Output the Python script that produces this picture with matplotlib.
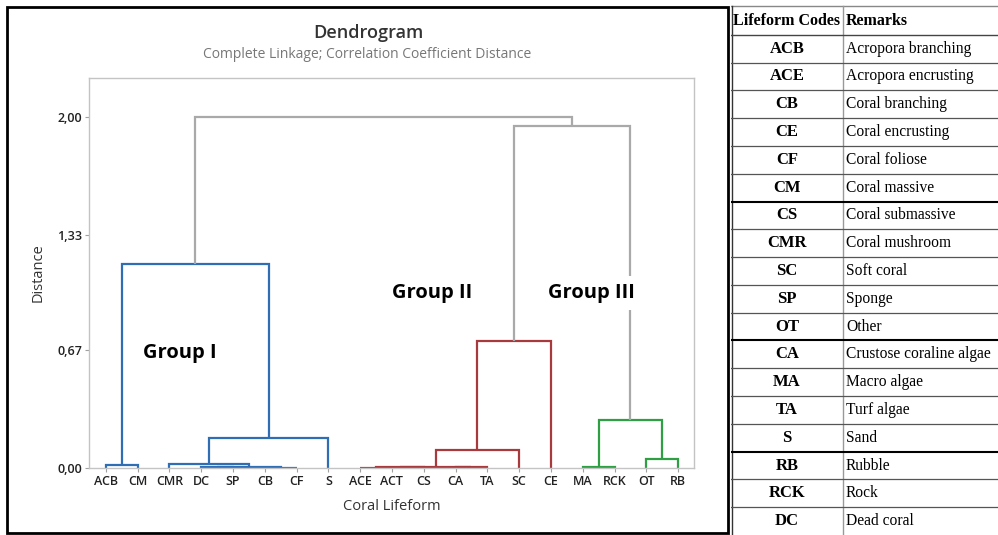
import matplotlib
matplotlib.use('Agg')
import matplotlib.pyplot as plt
from matplotlib.patches import Rectangle

# leaf order along the x axis
leaves = ['ACB', 'CM', 'CMR', 'DC', 'SP', 'CB', 'CF', 'S', 'ACE', 'ACT',
          'CS', 'CA', 'TA', 'SC', 'CE', 'MA', 'RCK', 'OT', 'RB']

# merges: (left node, right node, distance, colour key); new nodes get ids 19, 20, ...
merges = [
    (3, 4, 0.006, 'blue'),     # 19 DC+SP
    (5, 6, 0.002, 'blue'),     # 20 CB+CF
    (19, 20, 0.008, 'blue'),   # 21
    (2, 21, 0.025, 'blue'),    # 22 CMR+...
    (0, 1, 0.018, 'blue'),     # 23 ACB+CM
    (22, 7, 0.173, 'blue'),    # 24 ...+S
    (23, 24, 1.165, 'blue'),   # 25 group I
    (8, 9, 0.002, 'red'),      # 26 ACE+ACT
    (26, 10, 0.003, 'red'),    # 27 +CS
    (11, 12, 0.004, 'red'),    # 28 CA+TA
    (27, 28, 0.006, 'red'),    # 29
    (29, 13, 0.100, 'red'),    # 30 +SC
    (30, 14, 0.725, 'red'),    # 31 group II (+CE)
    (15, 16, 0.004, 'green'),  # 32 MA+RCK
    (17, 18, 0.053, 'green'),  # 33 OT+RB
    (32, 33, 0.274, 'green'),  # 34 group III
    (31, 34, 1.949, 'gray'),   # 35
    (25, 35, 2.002, 'gray'),   # 36
]

y_ticks = [0.0, 0.67, 1.33, 2.0]
y_tick_labels = ['0,00', '0,67', '1,33', '2,00']

group_names = ['Group I', 'Group II', 'Group III']
group_x = [3.34, 11.26, 16.28]
group_y = [0.655, 0.997, 0.997]

table_codes = ['ACB', 'ACE', 'CB', 'CE', 'CF', 'CM', 'CS', 'CMR', 'SC',
               'SP', 'OT', 'CA', 'MA', 'TA', 'S', 'RB', 'RCK', 'DC']
table_remarks = ['Acropora branching', 'Acropora encrusting', 'Coral branching',
                 'Coral encrusting', 'Coral foliose', 'Coral massive',
                 'Coral submassive', 'Coral mushroom', 'Soft coral', 'Sponge',
                 'Other', 'Crustose coraline algae', 'Macro algae', 'Turf algae',
                 'Sand', 'Rubble', 'Rock', 'Dead coral']
heavy_rules = ['CM', 'OT', 'S']

colours = {'blue': '#2f6db5', 'red': '#a8393d', 'green': '#2ea043',
           'gray': '#a9a9a9'}

W, H = 998, 535
fig = plt.figure(figsize=(W / 100, H / 100), dpi=100)
plt.rcParams['font.family'] = ['Open Sans', 'DejaVu Sans']

# frame round the chart panel
fig.patches.append(Rectangle((7 / W, 1 - 533 / H), (728 - 7) / W, (533 - 7) / H,
                             transform=fig.transFigure, fill=False,
                             edgecolor='black', linewidth=2))

ax = fig.add_axes([89 / W, 1 - 468 / H, (694 - 89) / W, (468 - 78) / H])

pos = {i: i + 1 for i in range(len(leaves))}
hgt = {i: 0.0 for i in range(len(leaves))}
for k, (a, b, h, c) in enumerate(merges):
    n = len(leaves) + k
    xa, xb = pos[a], pos[b]
    ax.plot([xa, xa, xb, xb], [hgt[a], h, h, hgt[b]], color=colours[c],
            lw=1.6, solid_joinstyle='miter', solid_capstyle='butt', zorder=2)
    pos[n] = (xa + xb) / 2
    hgt[n] = h

ax.set_xlim(0.47, 19.5)
ax.set_ylim(0, 2.222)
ax.set_xticks(range(1, len(leaves) + 1))
ax.set_xticklabels(leaves)
ax.set_yticks(y_ticks)
ax.set_yticklabels(y_tick_labels)
ax.tick_params(axis='both', length=3, width=0.8, color='#a0a0a0',
               labelsize=9, labelcolor='#222222', pad=2)
for lab in ax.get_xticklabels() + ax.get_yticklabels():
    lab.set_fontweight('semibold')
for sp in ax.spines.values():
    sp.set_color('#c4c4c4')
    sp.set_linewidth(1)

ax.set_xlabel('Coral Lifeform', fontsize=10.5, color='#333333', labelpad=8)
ax.set_ylabel('Distance', fontsize=10.5, color='#333333', labelpad=8)

for name, gx, gy in zip(group_names, group_x, group_y):
    ax.text(gx, gy, name, ha='center', va='center', fontsize=14.5,
            fontweight='bold', color='black', zorder=3,
            bbox=dict(facecolor='white', edgecolor='none', pad=5))

fig.text(368 / W, 1 - 33 / H, 'Dendrogram', ha='center', va='center',
         fontsize=13, color='#333333', fontweight='semibold')
fig.text(367 / W, 1 - 55 / H, 'Complete Linkage; Correlation Coefficient Distance',
         ha='center', va='center', fontsize=10, color='#777777')

# lifeform table on the right
tx = fig.add_axes([731 / W, 0, (W - 731) / W, 1 - 5 / H])
tx.set_xlim(731, W)
tx.set_ylim(535, 5)
tx.axis('off')
row_h = (535 - 7) / (len(table_codes) + 1)
top = 7
tx.plot([731, W], [top - 1, top - 1], color='#888888', lw=1)
tx.plot([732, 732], [top - 1, 535], color='#333333', lw=1)
tx.plot([843, 843], [top - 1, 535], color='#999999', lw=1)

serif = ['Liberation Serif', 'DejaVu Serif']
tx.text(787, top + row_h / 2, 'Lifeform Codes', ha='center', va='center',
        family=serif, fontweight='bold', fontsize=11.5)
tx.text(846, top + row_h / 2, 'Remarks', ha='left', va='center',
        family=serif, fontweight='bold', fontsize=11.5)
tx.plot([731, W], [top + row_h, top + row_h], color='#444444', lw=1)
for i, (code, rem) in enumerate(zip(table_codes, table_remarks)):
    yc = top + row_h * (i + 1.5)
    tx.text(787, yc, code, ha='center', va='center', family=serif,
            fontweight='bold', fontsize=12)
    tx.text(846, yc, rem, ha='left', va='center', family=serif, fontsize=11.2)
    yb = top + row_h * (i + 2)
    if code in heavy_rules:
        tx.plot([731, W], [yb, yb], color='black', lw=1.5)
    elif i < len(table_codes) - 1:
        tx.plot([731, W], [yb, yb], color='#555555', lw=0.9)

fig.savefig('out.png', dpi=100)
